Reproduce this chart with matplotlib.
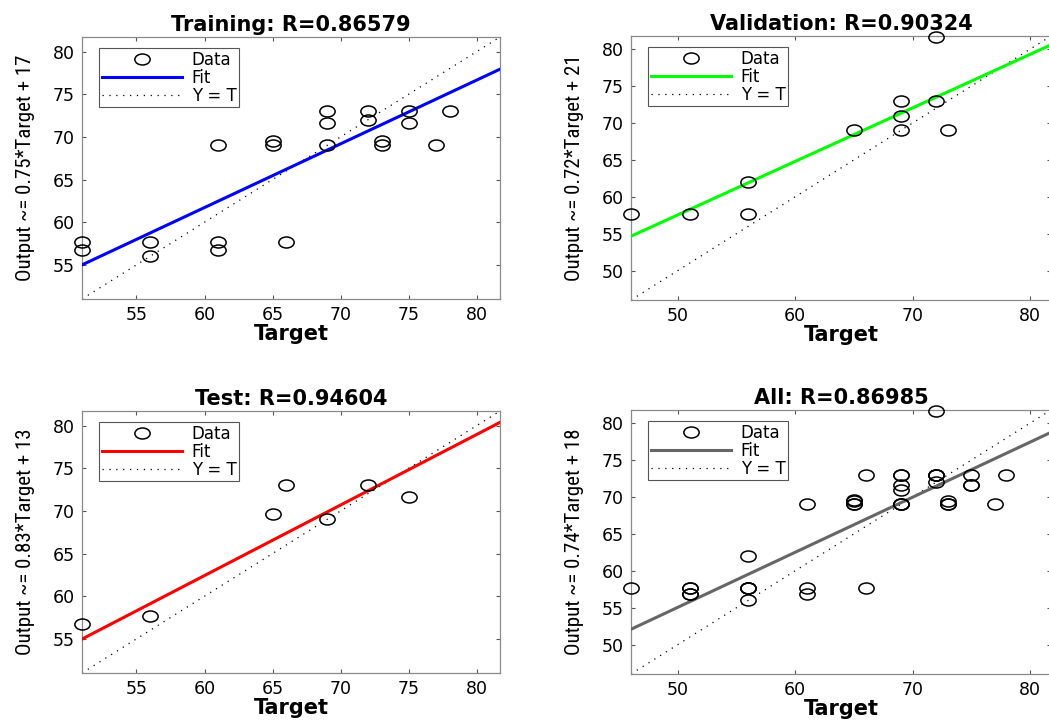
import numpy as np
import matplotlib
matplotlib.use('Agg')
from matplotlib import pyplot as plt
from matplotlib import font_manager
from matplotlib.path import Path
from matplotlib.transforms import Affine2D

# data (target, output)
train_t = [51, 51, 56, 56, 61, 61, 61, 65, 65, 66, 69, 69, 69, 72, 72, 73, 73, 75, 75, 77, 78]
train_y = [57.7, 56.8, 57.7, 56.0, 69.0, 57.7, 56.8, 69.5, 69.0, 57.7, 73.0, 71.6, 69.0, 73.0, 72.0, 69.5, 69.0, 73.0, 71.6, 69.0, 73.0]

val_t = [46, 51, 56, 56, 65, 69, 69, 69, 72, 72, 73]
val_y = [57.7, 57.7, 62.0, 57.7, 69.0, 73.0, 71.0, 69.0, 73.0, 81.7, 69.0]

test_t = [51, 56, 65, 66, 69, 72, 75]
test_y = [56.8, 57.7, 69.6, 73.0, 69.0, 73.0, 71.6]

all_t = train_t + val_t + test_t
all_y = train_y + val_y + test_y

titles = ['Training: R=0.86579', 'Validation: R=0.90324', 'Test: R=0.94604', 'All: R=0.86985']
ylabels = ['Output ~= 0.75*Target + 17', 'Output ~= 0.72*Target + 21',
           'Output ~= 0.83*Target + 13', 'Output ~= 0.74*Target + 18']
fit_slope = [0.747, 0.725, 0.827, 0.746]
fit_icpt = [16.9, 21.3, 12.8, 17.75]
fit_color = ['#0000ff', '#00ff00', '#ff0000', '#666666']
lims = [(51, 81.7), (46, 81.8), (51, 81.7), (46, 81.8)]
xticks = [[55, 60, 65, 70, 75, 80], [50, 60, 70, 80], [55, 60, 65, 70, 75, 80], [50, 60, 70, 80]]
yticks = [[55, 60, 65, 70, 75, 80], [50, 55, 60, 65, 70, 75, 80],
          [55, 60, 65, 70, 75, 80], [50, 55, 60, 65, 70, 75, 80]]
sets = [(train_t, train_y), (val_t, val_y), (test_t, test_y), (all_t, all_y)]

# axes boxes in pixels: left, top, right, bottom
W, H = 1049, 721
boxes = [(82, 37, 500, 299), (631, 36, 1051, 300),
         (82, 411, 500, 673), (631, 410, 1051, 674)]

# narrow font for the y labels (the picture is stretched sideways)
names = set(f.name for f in font_manager.fontManager.ttflist)
yfam, ysize = 'Liberation Sans', 13.5
for nm, sz in [('Liberation Sans Narrow', 16), ('Roboto Condensed', 15),
               ('Open Sans Condensed', 15)]:
    if nm in names:
        yfam, ysize = nm, sz
        break

# squashed circle marker
ell = Path.unit_circle().transformed(Affine2D().scale(1.0, 0.72))

fig = plt.figure(figsize=(W / 100, H / 100), dpi=100)

for i in range(4):
    l, t, r, b = boxes[i]
    ax = fig.add_axes([l / W, 1 - b / H, (r - l) / W, (b - t) / H])
    lo, hi = lims[i]
    tt, yy = sets[i]
    ax.plot(tt, yy, linestyle='none', marker=ell, markersize=11,
            markerfacecolor='none', markeredgecolor='k', markeredgewidth=1.1,
            label='Data', clip_on=False, zorder=4)
    xs = np.array([lo, hi])
    ax.plot(xs, fit_slope[i] * xs + fit_icpt[i], color=fit_color[i], lw=2.2, label='Fit', zorder=3)
    ax.plot(xs, xs, color='k', lw=0.9, linestyle=(0, (1, 4.5)), label='Y = T', zorder=2)
    ax.set_xlim(lo, hi)
    ax.set_ylim(lo, hi)
    ax.set_xticks(xticks[i])
    ax.set_yticks(yticks[i])
    ax.tick_params(direction='in', top=True, right=True, length=3, width=0.8,
                   color='#555555', labelsize=12.5, pad=5)
    for sp in ax.spines.values():
        sp.set_color('#8a8a8a')
        sp.set_linewidth(0.9)
    ax.set_title(titles[i], fontsize=15, fontweight='bold', pad=4)
    ax.set_xlabel('Target', fontsize=15, fontweight='bold', labelpad=0)
    ax.set_ylabel(ylabels[i], fontsize=ysize, family=[yfam, 'DejaVu Sans'])
    ax.yaxis.set_label_coords(-0.113, 0.5)
    leg = ax.legend(loc='upper left', bbox_to_anchor=(0.041, 0.958), fontsize=12,
                    fancybox=False, framealpha=1, edgecolor='#555555',
                    handlelength=4.8, borderpad=0.15, labelspacing=0.0,
                    handletextpad=0.6, borderaxespad=0)
    leg.get_frame().set_linewidth(0.8)

fig.savefig('out.png', dpi=100)
